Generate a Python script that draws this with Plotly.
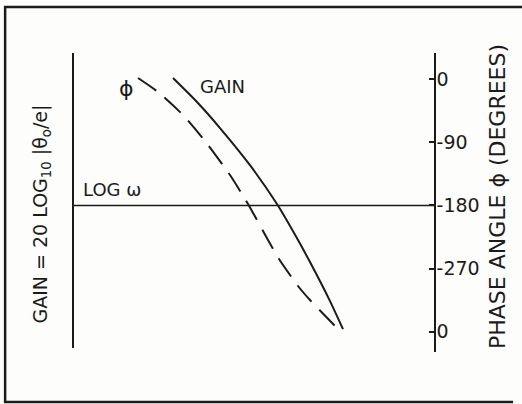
import plotly.graph_objects as go

# Frequency axis (log ω, arbitrary units) and phase scale in degrees
gain_x = [100, 124, 147, 177, 204, 225, 237, 257, 270]
gain_y = [1.7, -32.5, -69.6, -122.6, -178.0, -229.3, -260.7, -316.3, -356.2]

phase_x = [65, 85, 110, 132, 157, 175, 195, 206, 225, 237, 263]
phase_y = [1.7, -18.2, -51.0, -88.1, -136.6, -177.9, -229.2, -256.3, -294.8, -314.8, -353.3]

phase_ticks = [0, -90, -180, -270, -360]
phase_tick_labels = ["0", "-90", "-180", "-270", "0"]

INK = "#1b1b1b"
FONT = "DejaVu Sans"

fig = go.Figure()

# Gain curve (solid)
fig.add_trace(go.Scatter(
    x=gain_x, y=gain_y, mode="lines",
    line=dict(color=INK, width=2, shape="spline", smoothing=0.6),
    showlegend=False, hoverinfo="skip",
))

# Phase curve (dashed)
fig.add_trace(go.Scatter(
    x=phase_x, y=phase_y, mode="lines",
    line=dict(color=INK, width=2, shape="spline", smoothing=0.6, dash="22px,11px"),
    showlegend=False, hoverinfo="skip",
))

# Empty trace so the left gain axis is drawn
fig.add_trace(go.Scatter(x=[], y=[], xaxis="x", yaxis="y2", showlegend=False))

fig.update_layout(
    width=522, height=404,
    margin=dict(l=73, r=88, t=53, b=52),
    paper_bgcolor="#fdfdfb", plot_bgcolor="rgba(0,0,0,0)",
    font=dict(family=FONT, color=INK),
    xaxis=dict(range=[0, 361], visible=False),
    yaxis=dict(
        side="right", range=[-388.9, 37.4],
        tickvals=phase_ticks, ticktext=phase_tick_labels,
        ticks="inside", ticklen=5, tickwidth=1.5, tickcolor=INK,
        showline=True, linecolor=INK, linewidth=1.5,
        showgrid=False, zeroline=False,
        tickfont=dict(family=FONT, size=19, color=INK),
        ticklabelstandoff=-3,
    ),
    yaxis2=dict(
        anchor="free", position=0, side="left", domain=[0.0134, 1],
        range=[0, 1], showline=True, linecolor=INK, linewidth=1.5,
        ticks="", showticklabels=False, showgrid=False, zeroline=False,
    ),
    showlegend=False,
)

# log ω axis through -180°
fig.add_shape(type="line", xref="x domain", x0=0, x1=1, yref="y", y0=-180, y1=-180,
              line=dict(color=INK, width=1.5))

# Frame around the figure
fig.add_shape(type="path", xref="paper", yref="paper",
              path="M 1.244 1.154 L -0.188 1.154 L -0.188 -0.167 L 1.219 -0.167",
              line=dict(color=INK, width=2.5))

fig.add_annotation(x=53.5, y=-12.5, xref="x", yref="y", text="ϕ", showarrow=False,
                   font=dict(size=22, family=FONT, color=INK))
fig.add_annotation(x=149.5, y=-11, xref="x", yref="y", text="GAIN", showarrow=False,
                   font=dict(size=18, family=FONT, color=INK))
fig.add_annotation(x=8, y=-156.5, xref="x", yref="y", text="LOG ω", showarrow=False,
                   xanchor="left", font=dict(size=18, family=FONT, color=INK))
fig.add_annotation(x=-0.127, y=0.462, xref="paper", yref="paper", textangle=-90,
                   text="GAIN = 20 LOG<sub>10</sub> |θ<sub>o</sub>/e|", showarrow=False,
                   font=dict(size=19, family=FONT, color=INK))
fig.add_annotation(x=1.216, y=0.52, xref="paper", yref="paper", textangle=-90,
                   text="PHASE ANGLE ϕ (DEGREES)", showarrow=False,
                   font=dict(size=22, family=FONT, color=INK))

fig.write_html("out.html")
